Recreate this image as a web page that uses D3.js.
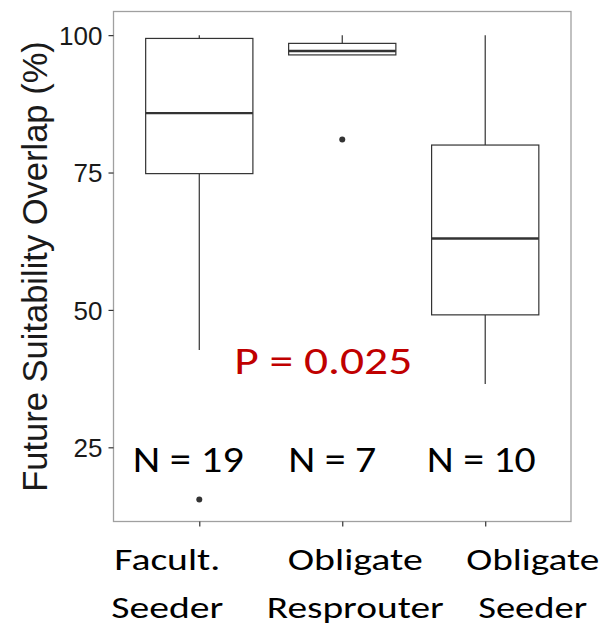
<!DOCTYPE html>
<html>
<head>
<meta charset="utf-8">
<script src="https://cdn.jsdelivr.net/npm/d3@7/dist/d3.min.js"></script>
<style>
  html, body { margin: 0; padding: 0; background: #fff; }
  svg { display: block; }
</style>
</head>
<body>
<svg id="chart" width="606" height="625"></svg>
<script>
// Regeneration strategy groups
const groups = ["Facult. Seeder", "Obligate Resprouter", "Obligate Seeder"];
const groupLines = [["Facult.", "Seeder"], ["Obligate", "Resprouter"], ["Obligate", "Seeder"]];
// Box summaries (%): lower whisker, Q1, median, Q3, upper whisker
const whiskerLow = [42.7, 96.4, 36.5];
const q1 = [74.8, 96.4, 49.1];
const median = [85.8, 97.1, 63.0];
const q3 = [99.4, 98.5, 80.0];
const whiskerHigh = [100, 100, 100];
// Outlying points per group
const outliers = [[15.5], [81.0], []];
const sampleSizes = [19, 7, 10];
const yTicks = [25, 50, 75, 100];
const pLabel = "P = 0.025";

const svg = d3.select("#chart");
const panel = { left: 113.5, right: 571, top: 11.5, bottom: 521.5 };

const x = d3.scalePoint().domain(groups).range([panel.left, panel.right]).padding(0.6);
const y = d3.scaleLinear().domain([11.5, 104.3]).range([panel.bottom, panel.top]);
const boxW = x.step() * 0.75;

const lineCol = "#333333";
const humanist = "Calibri, Carlito, Lato, 'Open Sans', sans-serif";

// panel border
svg.append("rect")
  .attr("x", panel.left).attr("y", panel.top)
  .attr("width", panel.right - panel.left).attr("height", panel.bottom - panel.top)
  .attr("fill", "none").attr("stroke", "#a0a0a0").attr("stroke-width", 1.3);

// y axis
const yAxis = svg.append("g")
  .attr("transform", `translate(${panel.left},0)`)
  .call(d3.axisLeft(y).tickValues(yTicks).tickSize(5).tickPadding(6));
yAxis.select(".domain").remove();
yAxis.selectAll(".tick line").attr("stroke", lineCol).attr("stroke-width", 1.2);
yAxis.selectAll(".tick text")
  .attr("fill", "#1a1a1a")
  .style("font-family", "'Liberation Sans', Arial, sans-serif")
  .style("font-size", "26px")
  .attr("dy", "0.36em");

// x axis ticks
const xAxis = svg.append("g")
  .attr("transform", `translate(0,${panel.bottom})`)
  .call(d3.axisBottom(x).tickSize(5).tickFormat(""));
xAxis.select(".domain").remove();
xAxis.selectAll(".tick line").attr("stroke", lineCol).attr("stroke-width", 1.2);

// y title
svg.append("text")
  .attr("transform", `translate(47,${(panel.top + panel.bottom) / 2}) rotate(-90)`)
  .attr("text-anchor", "middle")
  .attr("fill", "#1a1a1a")
  .style("font-family", "'Liberation Sans', Arial, sans-serif")
  .style("font-size", "34.5px")
  .text("Future Suitability Overlap (%)");

// boxes
const boxes = svg.append("g");
groups.forEach((g, i) => {
  const cx = x(g);
  const gg = boxes.append("g");
  gg.append("line")
    .attr("x1", cx).attr("x2", cx)
    .attr("y1", y(q3[i])).attr("y2", y(whiskerHigh[i]))
    .attr("stroke", lineCol).attr("stroke-width", 1.2);
  gg.append("line")
    .attr("x1", cx).attr("x2", cx)
    .attr("y1", y(q1[i])).attr("y2", y(whiskerLow[i]))
    .attr("stroke", lineCol).attr("stroke-width", 1.2);
  gg.append("rect")
    .attr("x", cx - boxW / 2).attr("width", boxW)
    .attr("y", y(q3[i])).attr("height", y(q1[i]) - y(q3[i]))
    .attr("fill", "#fff").attr("stroke", lineCol).attr("stroke-width", 1.2);
  gg.append("line")
    .attr("x1", cx - boxW / 2).attr("x2", cx + boxW / 2)
    .attr("y1", y(median[i])).attr("y2", y(median[i]))
    .attr("stroke", lineCol).attr("stroke-width", 2.4);
  outliers[i].forEach(v => {
    gg.append("circle")
      .attr("cx", cx).attr("cy", y(v)).attr("r", 3)
      .attr("fill", lineCol);
  });
});

// overlay text: placed relative to each group's position, stretched to a set width
function overlay(txt, cx, baseline, size, width, color) {
  svg.append("text")
    .attr("x", cx).attr("y", baseline)
    .attr("text-anchor", "middle")
    .attr("fill", color)
    .attr("textLength", width)
    .attr("lengthAdjust", "spacingAndGlyphs")
    .style("font-family", humanist)
    .style("font-size", size + "px")
    .text(txt);
}

// sample size labels
const nLayout = [{ dx: -11, w: 111 }, { dx: -10, w: 88 }, { dx: -4, w: 109 }];
groups.forEach((g, i) => {
  overlay(`N = ${sampleSizes[i]}`, x(g) + nLayout[i].dx, 471.5, 37, nLayout[i].w, "#000");
});

// significance label
overlay(pLabel, x(groups[1]) - 19, 374, 38, 178, "#c00000");

// category labels
const catLayout = [
  { dx: -32, w: [106, 112] },
  { dx: 13, w: [135, 177] },
  { dx: 47.5, w: [133, 109] }
];
groups.forEach((g, i) => {
  groupLines[i].forEach((ln, j) => {
    overlay(ln, x(g) + catLayout[i].dx, 570 + j * 48, 31, catLayout[i].w[j], "#000");
  });
});
</script>
</body>
</html>
